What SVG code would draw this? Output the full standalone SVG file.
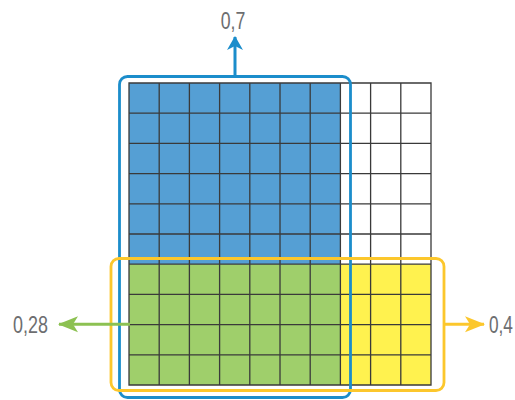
<svg xmlns="http://www.w3.org/2000/svg" width="515" height="400" viewBox="0 0 515 400">
<style>
.lbl{font-family:"Liberation Sans",Arial,sans-serif;font-size:23px;fill:#6d6e70;}
.gl{stroke:#3a3a3a;stroke-width:1.3;fill:none;}
</style>
<defs>
<marker id="ab" markerWidth="14" markerHeight="20" refX="13" refY="10" orient="auto" markerUnits="userSpaceOnUse" viewBox="0 0 14 20"><path d="M0,2 L14,10 L0,18 L4,10 Z" fill="#1b8dcb"/></marker>
<marker id="ag" markerWidth="20" markerHeight="18" refX="19" refY="9" orient="auto" markerUnits="userSpaceOnUse" viewBox="0 0 20 18"><path d="M0,1 L20,9 L0,17 L5,9 Z" fill="#8cc152"/></marker>
<marker id="ay" markerWidth="20" markerHeight="18" refX="19" refY="9" orient="auto" markerUnits="userSpaceOnUse" viewBox="0 0 20 18"><path d="M0,1 L20,9 L0,17 L5,9 Z" fill="#fcc72c"/></marker>
</defs>
<rect width="515" height="400" fill="#fff"/>
<g id="grid">
<rect x="129" y="83" width="211.4" height="181.2" fill="#559fd4"/>
<rect x="129" y="264.2" width="211.4" height="120.8" fill="#9fcf6b"/>
<rect x="340.4" y="264.2" width="90.6" height="120.8" fill="#fff24f"/>
<path class="gl" d="M129,83H431V385H129Z M159.2,83V385 M189.4,83V385 M219.6,83V385 M249.8,83V385 M280,83V385 M310.2,83V385 M340.4,83V385 M370.6,83V385 M400.8,83V385 M129,113.2H431 M129,143.4H431 M129,173.6H431 M129,203.8H431 M129,234H431 M129,264.2H431 M129,294.4H431 M129,324.6H431 M129,354.8H431"/>
</g>
<g id="blue-box"><rect x="119.5" y="76.5" width="231" height="321" rx="8" fill="none" stroke="#1b8dcb" stroke-width="2.8"/></g>
<g id="yellow-box"><rect x="111" y="258.5" width="333" height="132" rx="8" fill="none" stroke="#fcc72c" stroke-width="2.8"/></g>
<g id="connectors">
<line x1="235" y1="76" x2="235" y2="37" stroke="#1b8dcb" stroke-width="3" marker-end="url(#ab)"/>
<line x1="130" y1="324.3" x2="59" y2="324.3" stroke="#8cc152" stroke-width="3" marker-end="url(#ag)"/>
<line x1="445" y1="324.3" x2="484" y2="324.3" stroke="#fcc72c" stroke-width="3" marker-end="url(#ay)"/>
</g>
<g id="labels">
<text class="lbl" transform="translate(233,29) scale(0.77,1)" text-anchor="middle">0,7</text>
<text class="lbl" transform="translate(13,333) scale(0.78,1)">0,28</text>
<text class="lbl" transform="translate(489,333) scale(0.75,1)">0,4</text>
</g>
</svg>
